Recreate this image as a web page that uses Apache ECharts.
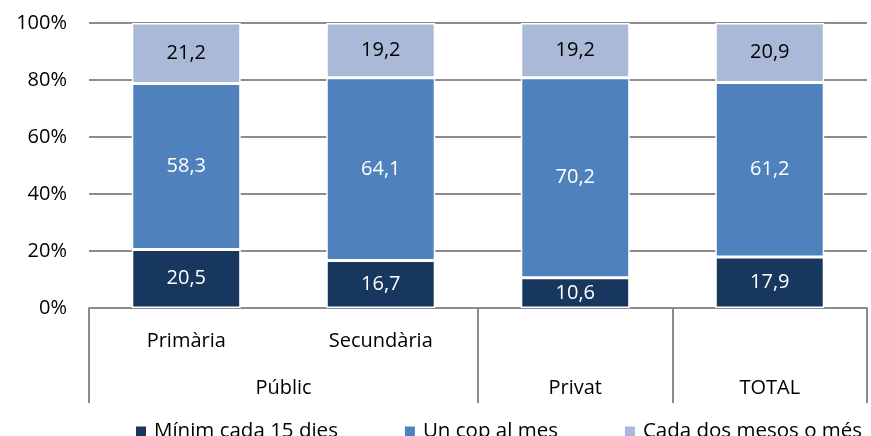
<!DOCTYPE html>
<html>
<head>
<meta charset="utf-8">
<script src="https://cdn.jsdelivr.net/npm/echarts@6/dist/echarts.min.js"></script>
<style>
  html, body { margin: 0; padding: 0; background: #fff; }
  #myChart { width: 871px; height: 436px; }
</style>
</head>
<body>
<div id="myChart"></div>
<script>
// categories and values
const subLabels = ['Primària', 'Secundària', '', ''];
const groupLabels = ['Públic', 'Privat', 'TOTAL'];
const groupCenters = [1, 2.5, 3.5];
const groupBounds = [0, 2, 3, 4];
const seriesNames = ['Mínim cada 15 dies', 'Un cop al mes', 'Cada dos mesos o més'];
const minim15 = [20.5, 16.7, 10.6, 17.9];
const unCop = [58.3, 64.1, 70.2, 61.2];
const cadaDos = [21.2, 19.2, 19.2, 20.9];
const yTicks = [0, 20, 40, 60, 80, 100];

const font = 'Open Sans';
const gray = '#8c8c8c';
const colors = ['#17375E', '#4F81BD', '#AAB9D7'];
const labelColors = ['#fff', '#fff', '#000'];

let myChart = echarts.init(document.getElementById('myChart'));

const fmt = v => v.toFixed(1).replace('.', ',');

let option = {
  animation: false,
  textStyle: { fontFamily: font },
  grid: { left: 89, right: 4, top: 23, bottom: 128 },
  legend: {
    left: 134,
    top: 421,
    width: 900,
    padding: 0,
    itemWidth: 12,
    itemHeight: 12,
    itemGap: 65,
    icon: 'rect',
    textStyle: { fontFamily: font, fontSize: 20.5, color: '#000', padding: [0, 0, 0, 2] },
    data: seriesNames
  },
  xAxis: [
    {
      type: 'category',
      data: subLabels,
      axisLine: { show: true, lineStyle: { color: gray, width: 2 } },
      axisTick: { show: false },
      axisLabel: { fontFamily: font, fontSize: 20, color: '#000', margin: 23 }
    },
    {
      type: 'value',
      position: 'bottom',
      min: 0,
      max: 4,
      splitLine: { show: false },
      axisLine: { show: false },
      axisTick: {
        show: true,
        customValues: groupBounds,
        length: 95,
        lineStyle: { color: gray, width: 2 }
      },
      axisLabel: {
        customValues: groupCenters,
        fontFamily: font,
        fontSize: 20,
        color: '#000',
        margin: 70,
        formatter: v => groupLabels[groupCenters.indexOf(v)] || ''
      }
    }
  ],
  yAxis: {
    type: 'value',
    min: yTicks[0],
    max: yTicks[yTicks.length - 1],
    interval: 20,
    axisLine: { show: false },
    axisTick: { show: false },
    splitLine: { lineStyle: { color: gray, width: 2 } },
    axisLabel: { fontFamily: font, fontSize: 20, color: '#000', margin: 22, formatter: '{value}%' }
  },
  series: [minim15, unCop, cadaDos].map((d, i) => ({
    name: seriesNames[i],
    type: 'bar',
    stack: 'total',
    barWidth: '56%',
    data: d,
    itemStyle: { color: colors[i], borderColor: '#fff', borderWidth: 1.5 },
    label: {
      show: true,
      position: 'inside',
      fontFamily: font,
      fontSize: 20,
      color: labelColors[i],
      formatter: p => fmt(p.value)
    }
  }))
};

myChart.setOption(option);

window.addEventListener('resize', () => {
  myChart.resize();
});
</script>
</body>
</html>
